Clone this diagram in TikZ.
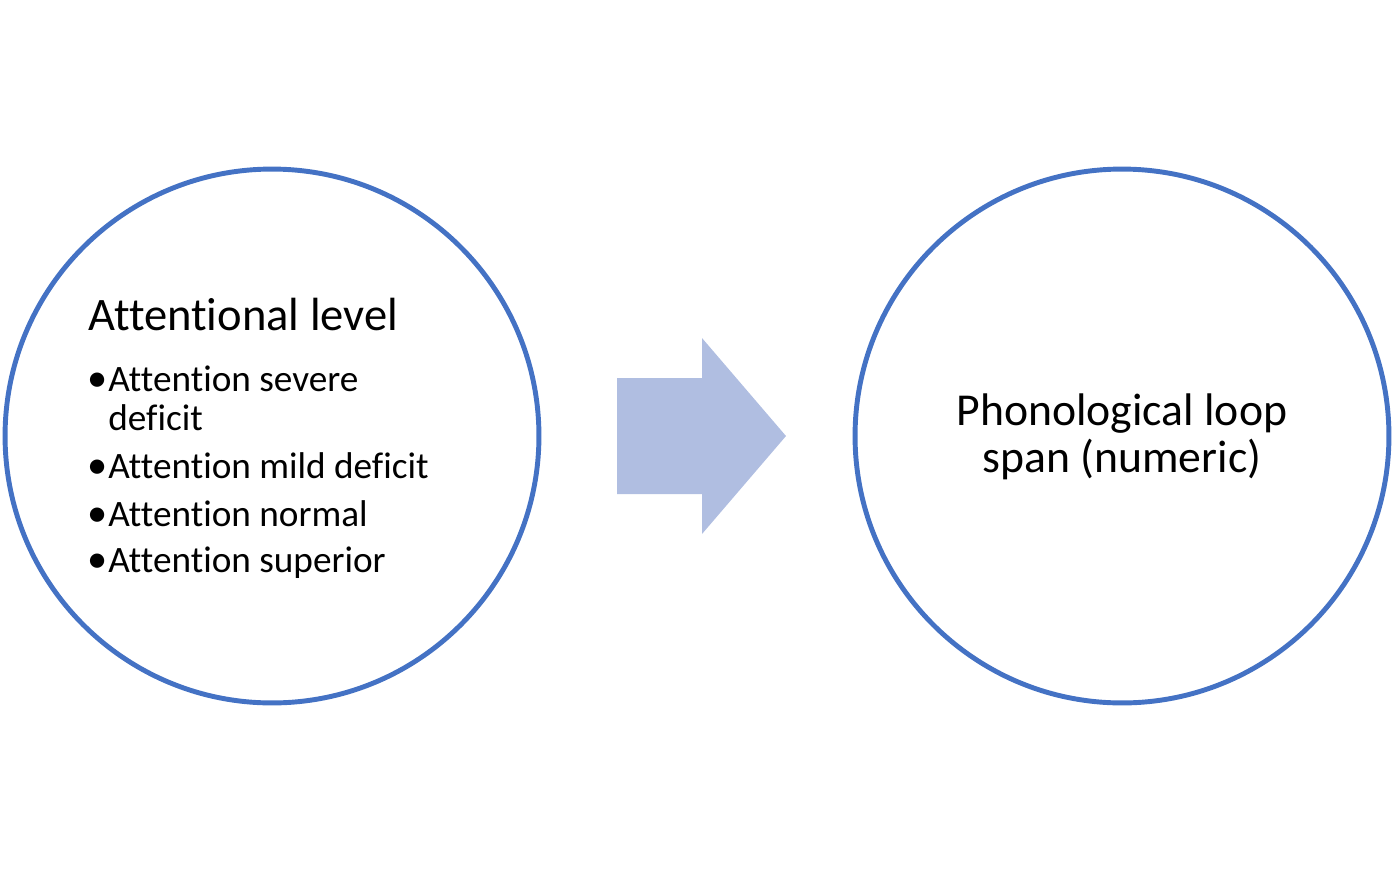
\documentclass[tikz,border=0pt]{standalone}
\usepackage{fontspec}
\setmainfont[Ligatures={NoCommon}]{Carlito}
\usetikzlibrary{positioning}

\definecolor{ringblue}{HTML}{4472C4}
\definecolor{arrowblue}{HTML}{B0BEE1}

\tikzset{
  ring/.style={circle, draw=ringblue, line width=2.8pt, minimum size=10.68cm, inner sep=0pt},
  head/.style={font=\fontsize{26.5}{32}\selectfont, anchor=base west, inner sep=0pt},
  item/.style={font=\fontsize{21.2}{26}\selectfont, anchor=base west, inner sep=0pt}
}

\begin{document}
\begin{tikzpicture}[x=0.02cm, y=-0.02cm]

\useasboundingbox (0,0) rectangle (1397,880);

\node [ring] (attn) at (272,436) {};
\node [ring] (loop) at (1122,436) {};

% block arrow between the circles
\fill [arrowblue] (617,378) -- (702,378) -- (702,338) -- (786,436)
    -- (702,534) -- (702,494) -- (617,494) -- cycle;

\node [head] (title) at (88,330) {Attentional level};

\foreach \y/\txt/\nm in {391/Attention severe/b1, 478/Attention mild deficit/b2,
                         526/Attention normal/b3, 572/Attention superior/b4}
{
    \node [item, font=\fontsize{23}{26}\selectfont] (dot\nm) at (87,\y) {\textbullet};
    \node [item] (\nm) at (108,\y) {\txt};
}
\node [item] (b1x) at (108,430) {deficit};

\node [font=\fontsize{26}{26.7}\selectfont, align=center, inner sep=0pt, anchor=base]
    (span) at (1122,472) {Phonological loop\\span (numeric)};

\end{tikzpicture}
\end{document}
